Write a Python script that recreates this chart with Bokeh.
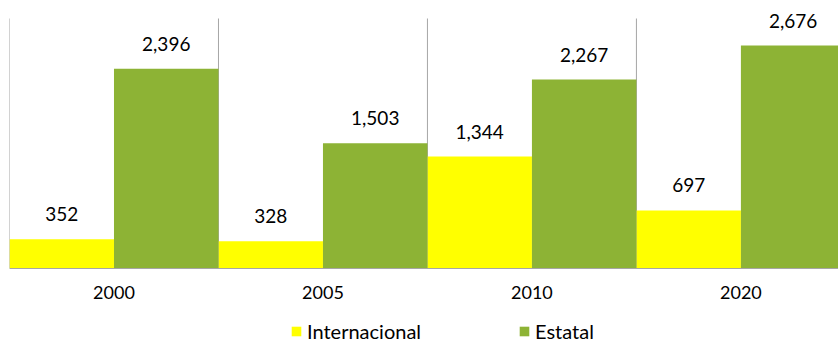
from bokeh.plotting import figure
from bokeh.models import ColumnDataSource, Range1d, FixedTicker, Legend, LegendItem
from bokeh.core.properties import value
from bokeh.embed import file_html
from bokeh.resources import INLINE
import numpy as np

years = ["2000", "2005", "2010", "2020"]
internacional = [352, 328, 1344, 697]
estatal = [2396, 1503, 2267, 2676]

FONT = "Lato"
YELLOW = "#FFFF00"
GREEN = "#8DB335"
GRID = "#A6A6A6"

idx = np.arange(len(years))

def fmt(v):
    return f"{v:,}"

src_i = ColumnDataSource(dict(x=idx - 0.25, top=internacional, lab=[fmt(v) for v in internacional]))
src_e = ColumnDataSource(dict(x=idx + 0.25, top=estatal, lab=[fmt(v) for v in estatal]))
src_g = ColumnDataSource(dict(x=idx - 0.5, y0=[0] * len(years), y1=[3000] * len(years)))

# frame spans the whole canvas so top labels and the legend are not clipped
p = figure(width=838, height=345, output_backend="svg", toolbar_location=None,
           x_range=Range1d(-0.5, 3.467), y_range=Range1d(-924, 3216),
           min_border_left=9, min_border_right=0, min_border_top=0, min_border_bottom=0)
p.outline_line_color = None
p.xgrid.visible = False
p.ygrid.visible = False
p.yaxis.visible = False

p.segment(x0="x", y0="y0", x1="x", y1="y1", source=src_g, line_color=GRID, line_width=1)

r_i = p.vbar(x="x", top="top", width=0.5, source=src_i, fill_color=YELLOW, line_color=None)
r_e = p.vbar(x="x", top="top", width=0.5, source=src_e, fill_color=GREEN, line_color=None)

for s in (src_i, src_e):
    p.text(x="x", y="top", text="lab", source=s, text_align="center", text_baseline="alphabetic",
           y_offset=-25, text_font=value(FONT), text_font_size="19px", text_color="#000000")

ax = p.xaxis[0]
ax.fixed_location = 0
ax.ticker = FixedTicker(ticks=list(idx))
ax.major_label_overrides = {int(i): y for i, y in zip(idx, years)}
ax.major_tick_line_color = None
ax.minor_tick_line_color = None
ax.major_tick_out = 0
ax.axis_line_color = GRID
ax.major_label_text_font = FONT
ax.major_label_text_font_size = "18px"
ax.major_label_text_color = "#000000"
ax.major_label_standoff = 17

legend = Legend(items=[LegendItem(label="Internacional", renderers=[r_i]),
                       LegendItem(label="Estatal", renderers=[r_e])],
                orientation="horizontal", location=(281, 2),
                label_text_font=FONT, label_text_font_size="20px", label_text_color="#000000",
                glyph_width=12, glyph_height=12, label_standoff=5, spacing=97,
                padding=0, margin=0, border_line_color=None, background_fill_alpha=0)
p.add_layout(legend, "center")

open("out.html", "w").write(file_html(p, INLINE))
